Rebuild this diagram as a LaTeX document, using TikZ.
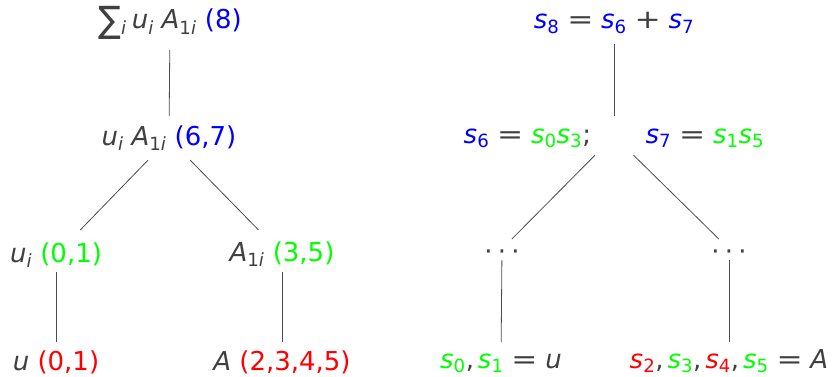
\documentclass[tikz,border=0pt]{standalone}
\usepackage{fontspec}
\setmainfont{DejaVu Sans}
\usepackage{xcolor}
\usepackage{graphicx}
\definecolor{txtgray}{RGB}{64,64,64}
\definecolor{lvlblue}{RGB}{0,0,255}
\definecolor{lvlgreen}{RGB}{0,255,0}
\definecolor{lvlred}{RGB}{255,0,0}
\newcommand{\lsub}[1]{\textsubscript{#1}}
\newcommand{\sv}[2]{\textcolor{#1}{\textit{s}\lsub{#2}}}
\newcommand{\eqop}{\hspace{0.3em}\scalebox{1.2}[1]{=}\hspace{0.3em}}
\newcommand{\plusop}{\hspace{0.3em}\scalebox{1.2}[1]{+}\hspace{0.3em}}
\newcommand{\bigsum}{\raisebox{-0.12em}{\scalebox{1.3}[1.4]{\char"2211}}}
\newcommand{\threedots}{\raisebox{-4pt}{\textperiodcentered\hspace{0.2em}\textperiodcentered\hspace{0.2em}\textperiodcentered}}

\begin{document}
\begin{tikzpicture}[x=1pt, y=-1pt,
    every node/.style={font=\fontsize{26}{31}\selectfont, text=txtgray, inner sep=0pt,
      text height=20pt, text depth=6pt},
    edge/.style={draw=black!70, line width=0.8pt}]
        \useasboundingbox (0,0) rectangle (832,377);

        % sum over i
        \node (lroot) at (170,22)  {\bigsum\lsub{\textit{i}}\hspace{0.2em}\textit{u}\lsub{\textit{i}}\hspace{0.3em}\textit{A}\lsub{1\textit{i}} \textcolor{lvlblue}{(8)}};
        \node (lmid)  at (169,138.5) {\textit{u}\lsub{\textit{i}}\hspace{0.3em}\textit{A}\lsub{1\textit{i}} \textcolor{lvlblue}{(6,7)}};
        \node (lleft) at (56,255)  {\textit{u}\lsub{\textit{i}} \textcolor{lvlgreen}{(0,1)}};
        \node (lright) at (282,254) {\textit{A}\lsub{1\textit{i}} \textcolor{lvlgreen}{(3,5)}};
        \node (lbotl) at (56,363)  {\textit{u} \textcolor{lvlred}{(0,1)}};
        \node (lbotr) at (282,363) {\textit{A} \textcolor{lvlred}{(2,3,4,5)}};

        % slots
        \node (rroot) at (614,22)  {\sv{lvlblue}{8}\eqop\sv{lvlblue}{6}\plusop\sv{lvlblue}{7}};
        \node (rmid)  at (614,136) {\sv{lvlblue}{6}\eqop\sv{lvlgreen}{0}\sv{lvlgreen}{3};\hspace{2.1em}\sv{lvlblue}{7}\eqop\sv{lvlgreen}{1}\sv{lvlgreen}{5}};
        \node (rdotl) at (502,249) {\threedots};
        \node (rdotr) at (729,249) {\threedots};
        \node (rbotl) at (501,361) {\sv{lvlgreen}{0},\hspace{0.15em}\sv{lvlgreen}{1}\eqop\textit{u}};
        \node (rbotr) at (729,361) {\sv{lvlred}{2},\hspace{0.15em}\sv{lvlgreen}{3},\hspace{0.15em}\sv{lvlred}{4},\hspace{0.15em}\sv{lvlgreen}{5}\eqop\textit{A}};

        % connectors
        \foreach \a/\b/\s/\e in {lroot/lmid/28/22.5, lmid/lleft/30/34.8, lmid/lright/30.1/33.6,
            lleft/lbotl/17/21, lright/lbotr/18/21,
            rroot/rmid/22/20, rmid/rdotl/27/14.1, rmid/rdotr/27.3/14.3,
            rdotl/rbotl/11/19, rdotr/rbotr/11/19} {
          \draw[edge, shorten <=\s pt, shorten >=\e pt] (\a.center) -- (\b.center);
        }
      \end{tikzpicture}
\end{document}
